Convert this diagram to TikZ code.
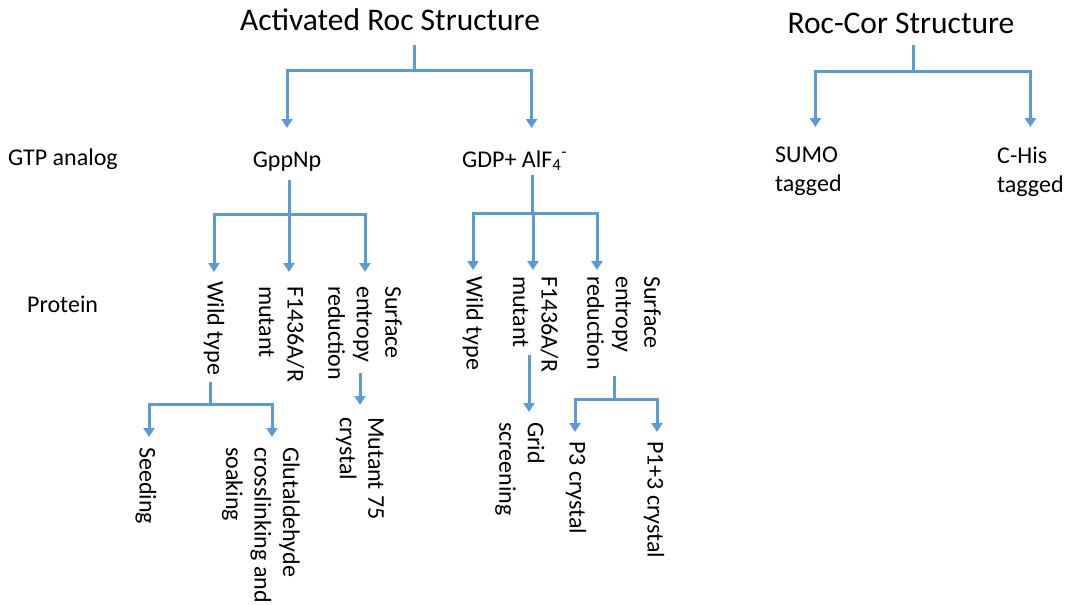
\documentclass[tikz,border=0pt]{standalone}
\usepackage{fontspec}
\setmainfont{Carlito}
\usepackage{tikz}
\usetikzlibrary{arrows.meta}
\definecolor{rocblue}{RGB}{91,155,213}
\newcommand{\rocbody}{\fontsize{24}{28.5}\selectfont}
\newcommand{\roctitle}{\fontsize{31.5}{36}\selectfont}

\begin{document}
\begin{tikzpicture}[x=1pt,y=-1pt,
  heading/.style={font=\roctitle, inner sep=0pt, anchor=base},
  txt/.style={font=\rocbody, inner sep=0pt},
  vtxt/.style={font=\rocbody, inner sep=0pt, rotate=-90, anchor=west, align=left},
  branch/.style={draw=rocblue, line width=3pt},
  branchtip/.style={branch, -{Triangle[width=11pt,length=9pt]}}]
\useasboundingbox (0,0) rectangle (1069,605);

\node[heading] (actroc) at (390,30.5) {Activated Roc Structure};
\node[heading] (roccor) at (901,33) {Roc-Cor Structure};
\node[txt, anchor=base west] (gtp) at (8,165) {GTP analog};
\node[txt, anchor=base west] (prot) at (27,312) {Protein};
\node[txt, anchor=base] (gppnp) at (287,167) {GppNp};
\node[txt, anchor=base west] (gdp) at (462,167) {GDP+ AlF\textsubscript{4}\textsuperscript{-}};
\node[txt, anchor=north west, align=left] (sumo) at (775,147) {SUMO\\tagged};
\node[txt, anchor=north west, align=left] (chis) at (997,147) {C-His\\tagged};

\node[vtxt] (wtA) at (214,281) {Wild type};
\node[vtxt] (mutA) at (281.5,286) {F1436A/R\\mutant};
\node[vtxt] (serA) at (365,286) {Surface\\entropy\\reduction};
\node[vtxt] (seed) at (146,447) {Seeding};
\node[vtxt] (glut) at (261,447) {Glutaldehyde\\crosslinking and\\soaking};
\node[vtxt] (mut75) at (360,417) {Mutant 75\\crystal};

\node[vtxt] (wtB) at (473,276) {Wild type};
\node[vtxt] (mutB) at (535.5,276) {F1436A/R\\mutant};
\node[vtxt] (serB) at (624,276) {Surface\\entropy\\reduction};
\node[vtxt] (grid) at (520,422) {Grid\\screening};
\node[vtxt] (pthree) at (576,441) {P3 crystal};
\node[vtxt] (ponethree) at (654,441) {P1+3 crystal};

\coordinate (jA) at (414,70);
\coordinate (jR) at (913,71);
\coordinate (jB) at (289,214);
\coordinate (jC) at (532,213);
\coordinate (jD) at (210,404);
\coordinate (jF) at (614,399);

\draw[branch, shorten <=14.5pt] (actroc.base -| jA) -- (jA);
\draw[branchtip, shorten >=39pt] (jA) -| (gppnp.base);
\draw[branchtip, shorten >=39pt] (jA) -| ([xshift=17pt]gdp.base);

\draw[branch, shorten <=12pt] (roccor.base -| jR) -- (jR);
\draw[branchtip, shorten >=20pt] (jR) -| ([xshift=7pt]sumo.north);
\draw[branchtip, shorten >=20pt] (jR) -| (chis.north);

\draw[branch, shorten <=13pt] (gppnp.base -| jB) -- (jB);
\draw[branchtip, shorten >=9pt] (jB) -| (wtA.west);
\draw[branchtip, shorten >=14pt] (jB) -| ([xshift=7.5pt]mutA.west);
\draw[branchtip, shorten >=14pt] (jB) -| (serA.west);

\draw[branch, shorten <=7pt] (wtA.east -| jD) -- (jD);
\draw[branchtip, shorten >=10pt] (jD) -| ([xshift=3pt]seed.west);
\draw[branchtip, shorten >=10pt] (jD) -| ([xshift=11pt]glut.west);
\draw[branchtip, shorten <=87pt, shorten >=12pt] (serA.west -| mut75.west) -- (mut75.west);

\draw[branch, shorten <=8pt] (gdp.base -| jC) -- (jC);
\draw[branchtip, shorten >=6pt] (jC) -| (wtB.west);
\draw[branchtip, shorten >=6pt] (jC) -| ([xshift=-2.5pt]mutB.west);
\draw[branchtip, shorten >=6pt] (jC) -| ([xshift=-27pt]serB.west);
\draw[branchtip, shorten <=79pt, shorten >=10pt] ([xshift=9pt]grid.west |- mutB.west) -- ([xshift=9pt]grid.west);

\draw[branch, shorten <=5.5pt] (serB.east -| jF) -- (jF);
\draw[branchtip, shorten >=9pt] (jF) -| ([xshift=-1pt]pthree.west);
\draw[branchtip, shorten >=9pt] (jF) -| ([xshift=3pt]ponethree.west);
\end{tikzpicture}
\end{document}
